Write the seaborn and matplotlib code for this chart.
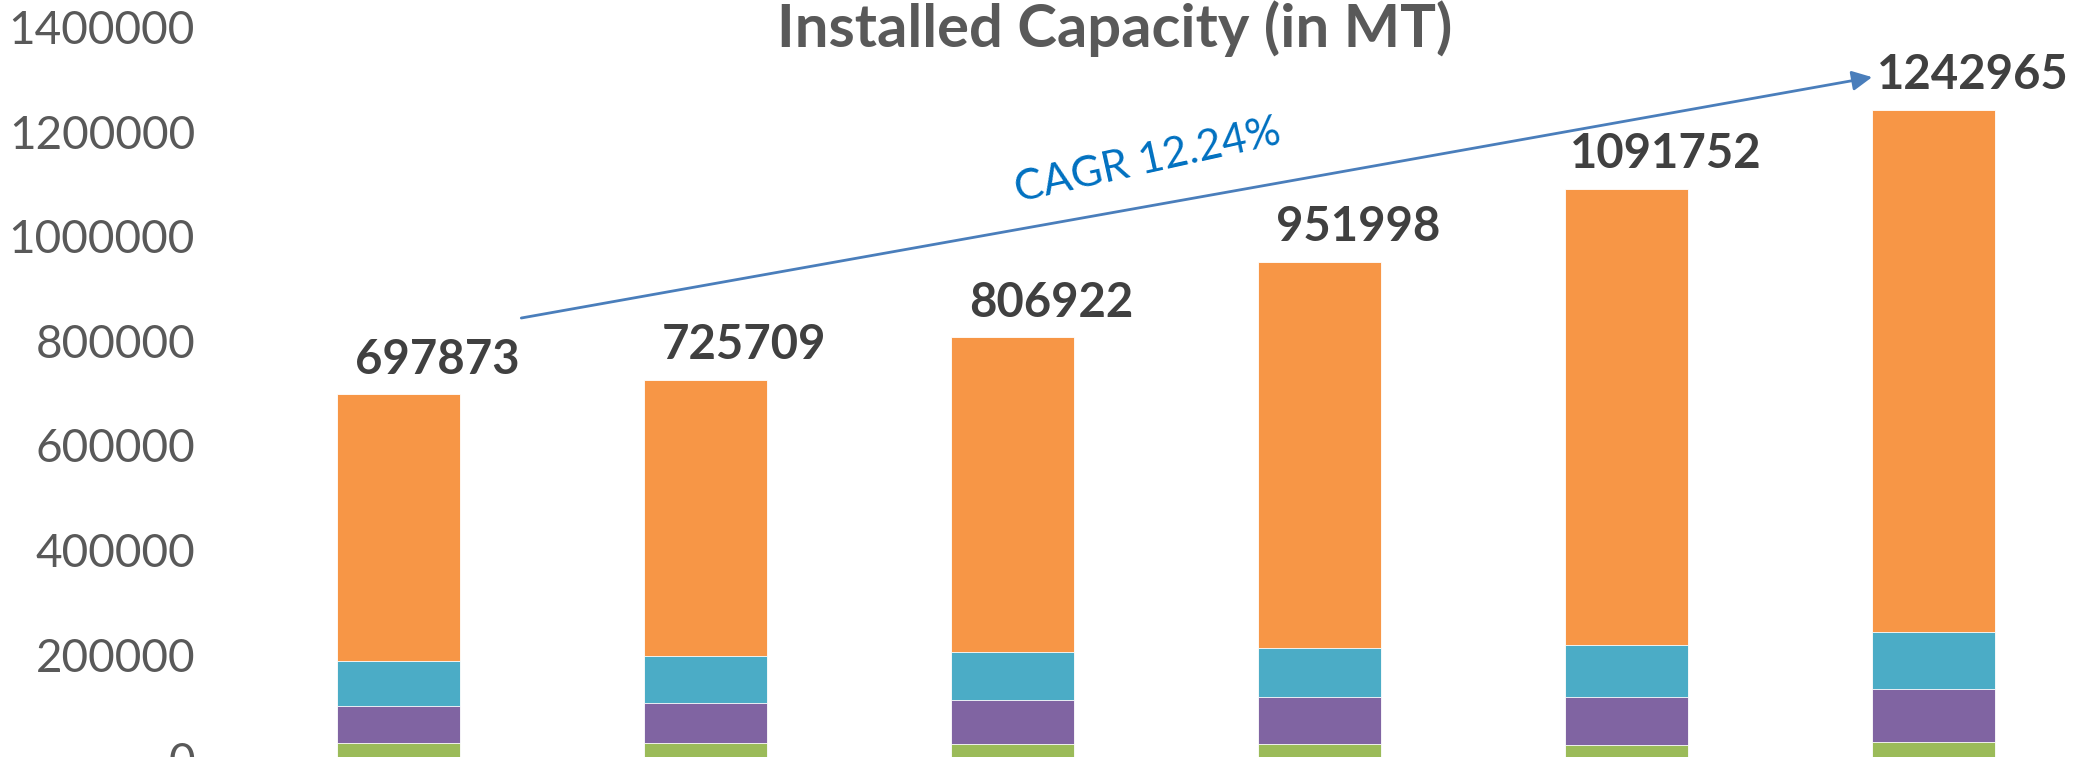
import numpy as np
import pandas as pd
import matplotlib
matplotlib.use("Agg")
import matplotlib.pyplot as plt
import seaborn as sns

# ---- data ----
periods = ["P1", "P2", "P3", "P4", "P5", "P6"]
totals = [697873, 725709, 806922, 951998, 1091752, 1242965]
green_vals = [30000, 30000, 28700, 28700, 26800, 32500]
purple_vals = [70900, 77200, 84800, 89400, 91300, 100900]
teal_vals = [86700, 89400, 90700, 93800, 100700, 109100]
y_ticks = [0, 200000, 400000, 600000, 800000, 1000000, 1200000, 1400000]
title_text = "Installed Capacity (in MT)"
cagr_text = "CAGR 12.24%"

# orange layer = remainder to the labelled total
orange_vals = [t - g - p - c for t, g, p, c in zip(totals, green_vals, purple_vals, teal_vals)]

sns.set_theme(style="white")
plt.rcParams["font.family"] = ["Lato", "DejaVu Sans"]

W, H = 2075, 757
fig = plt.figure(figsize=(W / 100, H / 100), dpi=100)
ax = fig.add_axes([245 / W, -2 / H, 1842 / W, 731.5 / H])

c_orange = "#F79646"
c_teal = "#4BACC6"
c_purple = "#8064A2"
c_green = "#9BBB59"

g = np.array(green_vals)
p = np.array(purple_vals)
t = np.array(teal_vals)
o = np.array(orange_vals)
layers = [
    (g + p + t + o, c_orange),
    (g + p + t, c_teal),
    (g + p, c_purple),
    (g, c_green),
]
for vals, col in layers:
    df = pd.DataFrame({"period": periods, "value": vals})
    sns.barplot(data=df, x="period", y="value", color=col, width=0.4,
                saturation=1, edgecolor="white", linewidth=0.6, ax=ax,
                errorbar=None)

ax.set_xlim(-0.5, 5.5)
ax.set_ylim(0, 1400000)
ax.set_yticks(y_ticks)
ax.set_yticklabels([str(v) for v in y_ticks])
ax.set_xticks([])
ax.set_xlabel("")
ax.set_ylabel("")
for s in ax.spines.values():
    s.set_visible(False)
ax.tick_params(axis="y", length=0, pad=36, labelsize=33, labelcolor="#595959")
ax.grid(False)

# value labels
for i, tot in enumerate(totals):
    ax.annotate(str(tot), xy=(i, tot), xytext=(28, 15), textcoords="offset points",
                ha="center", va="baseline", fontsize=34, fontweight="bold",
                color="#404040", annotation_clip=False)

# CAGR arrow
ax.annotate("", xy=(4.80, 1305000), xytext=(0.40, 844000),
            arrowprops=dict(arrowstyle="-|>", color="#4A7EBB", lw=2,
                            mutation_scale=30, shrinkA=0, shrinkB=0),
            annotation_clip=False)
ax.text(2.44, 1145000, cagr_text, rotation=12.5, ha="center", va="center",
        fontsize=31, color="#0070C0")

fig.text(1115 / W, 1 - 47 / H, title_text, ha="center", va="baseline",
         fontsize=43, fontweight="bold", color="#595959")

fig.savefig("out.png", dpi=100)
